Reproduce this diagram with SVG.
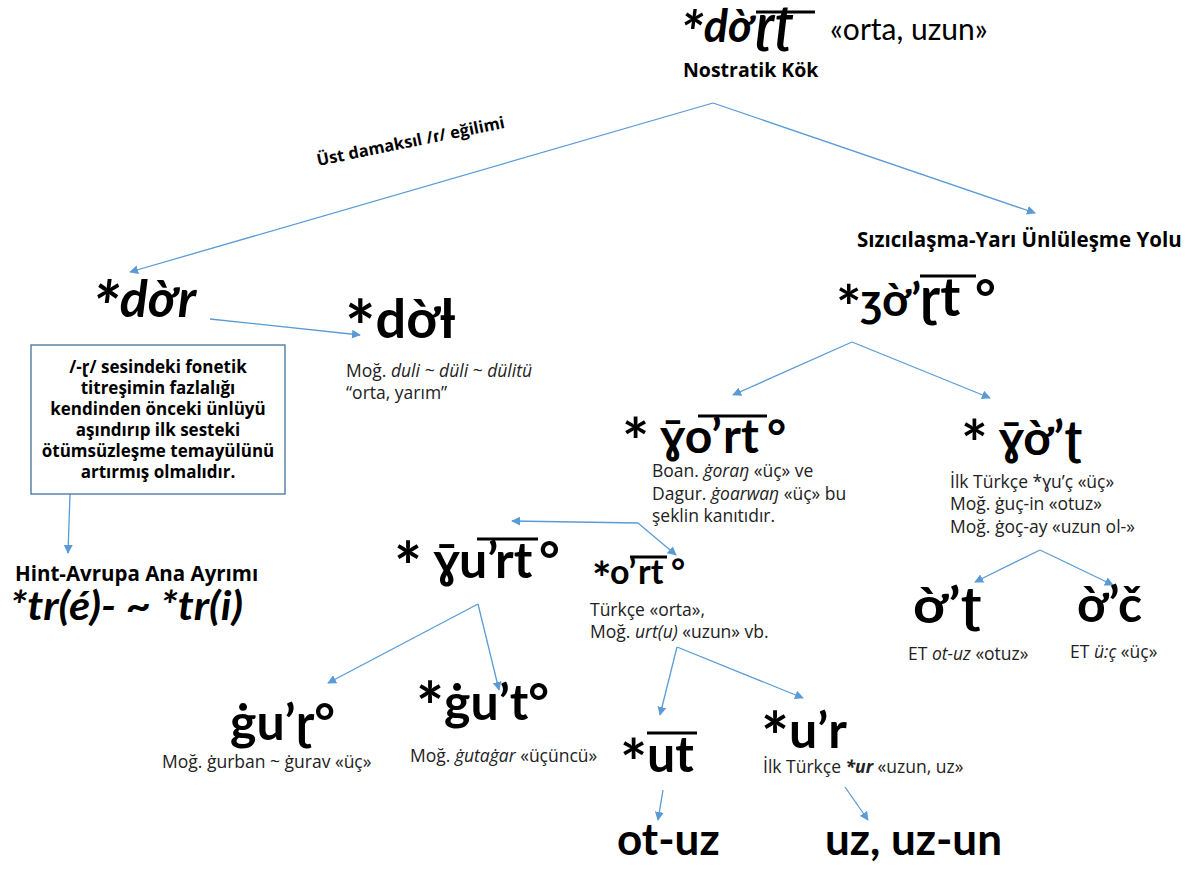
<svg xmlns="http://www.w3.org/2000/svg" width="1185" height="869" viewBox="0 0 1185 869">
<defs>
<marker id="ah" viewBox="0 0 10 10" refX="9" refY="5" markerWidth="9" markerHeight="9" markerUnits="userSpaceOnUse" orient="auto">
<path d="M0,0 L10,5 L0,10 z" fill="#5B9BD5"/>
</marker>
</defs>
<style>
text{font-family:Lato,"Noto Sans","DejaVu Sans",sans-serif;fill:#000}
.big{font-size:50px;font-weight:bold}
.bi{font-style:italic}
.sm{font-family:"Open Sans","Noto Sans",sans-serif;font-size:17.5px;fill:#222}
.lbl{font-family:"Open Sans","Noto Sans",sans-serif;font-weight:bold}
.box{font-family:"Open Sans","Noto Sans",sans-serif;font-size:17px;font-weight:bold;text-anchor:middle}
.ov{stroke:#000;stroke-width:3}
.conn line{stroke:#5B9BD5;stroke-width:1.3;marker-end:url(#ah)}
</style>
<rect width="1185" height="869" fill="#fff"/>

<g id="connectors" class="conn">
<line x1="713" y1="103" x2="130" y2="272"/>
<line x1="713" y1="103" x2="1035" y2="213"/>
<line x1="210" y1="319" x2="360" y2="335"/>
<line x1="70" y1="494" x2="68" y2="553"/>
<line x1="852" y1="342" x2="733" y2="395"/>
<line x1="852" y1="342" x2="990" y2="398"/>
<line x1="638" y1="523" x2="512" y2="521"/>
<line x1="638" y1="523" x2="676" y2="555"/>
<line x1="1040" y1="550" x2="975" y2="582"/>
<line x1="1040" y1="550" x2="1113" y2="585"/>
<line x1="478" y1="604" x2="328" y2="683"/>
<line x1="478" y1="604" x2="499" y2="690"/>
<line x1="677" y1="647" x2="660" y2="715"/>
<line x1="677" y1="647" x2="803" y2="698"/>
<line x1="663" y1="790" x2="658" y2="820"/>
<line x1="845" y1="787" x2="868" y2="820"/>
</g>

<g id="root">
<text x="680" y="42" class="bi" font-size="45" font-weight="bold"><tspan font-size="60" dy="12">*</tspan><tspan dy="-12">dờ</tspan></text>
<text x="756" y="42" class="bi" font-size="52" font-weight="bold">ɽʈ</text>
<line class="ov" x1="756" y1="12" x2="815" y2="12"/>
<text x="830" y="40" font-family="Open Sans" font-size="30">«orta, uzun»</text>
<text x="683" y="77" class="lbl" font-size="19.5">Nostratik Kök</text>
</g>

<g id="label-ust">
<text x="318" y="166" class="lbl" font-size="16.5" transform="rotate(-11.5 318 166)">Üst damaksıl /ɾ/  eğilimi</text>
</g>

<g id="label-sizici">
<text x="857" y="247" class="lbl" font-size="20.5">Sızıcılaşma-Yarı Ünlüleşme Yolu</text>
</g>

<g id="n-dor">
<text x="92" y="317" class="bi" font-size="52" font-weight="bold"><tspan font-size="70" dy="16">*</tspan><tspan dy="-16">dờr</tspan></text>
</g>

<g id="n-dol">
<text x="345" y="338" font-size="54" font-weight="bold"><tspan font-size="72" dy="16">*</tspan><tspan dy="-16">dờƚ</tspan></text>
<text x="346" y="377" class="sm">Moğ. <tspan font-style="italic">duli ~ düli ~ dülitü</tspan></text>
<text x="346" y="399" class="sm">“orta, yarım”</text>
</g>

<g id="n-box">
<rect x="31" y="345" width="254" height="149" fill="#fff" stroke="#41719C" stroke-width="1.3"/>
<text x="158" y="373" class="box">/-ɽ/ sesindeki fonetik</text>
<text x="158" y="394" class="box">titreşimin fazlalığı</text>
<text x="158" y="415" class="box">kendinden önceki ünlüyü</text>
<text x="158" y="436" class="box">aşındırıp ilk sesteki</text>
<text x="158" y="457" class="box">ötümsüzleşme temayülünü</text>
<text x="158" y="478" class="box">artırmış olmalıdır.</text>
</g>

<g id="n-hint">
<text x="15" y="581" class="lbl" font-size="20.5">Hint-Avrupa Ana Ayrımı</text>
<text x="10" y="620" font-size="40" font-weight="bold" font-style="italic" textLength="233" lengthAdjust="spacingAndGlyphs">*tr(é)- ~ *tr(i)</text>
</g>

<g id="n-zor">
<text x="836" y="316" font-size="46" font-weight="bold"><tspan font-size="60" dy="13">*</tspan><tspan dy="-13">ʒờ’</tspan></text>
<text x="920" y="316" font-size="54" font-weight="bold">ɽt</text>
<line class="ov" x1="920" y1="276" x2="976" y2="276"/>
<text x="975" y="316" class="big">°</text>
</g>

<g id="n-gort">
<text x="622" y="453" font-size="48" font-weight="bold"><tspan font-size="64" dy="12">*</tspan><tspan dy="-12"> ɣ̄o’</tspan></text>
<text x="723" y="453" font-size="48" font-weight="bold">rt</text>
<line class="ov" x1="698" y1="416" x2="767" y2="416"/>
<text x="767" y="453" font-size="46" font-weight="bold">°</text>
<text x="652" y="477" class="sm">Boan.  <tspan font-style="italic">ġoraŋ</tspan> «üç» ve</text>
<text x="652" y="500" class="sm">Dagur. <tspan font-style="italic">ġoarwaŋ</tspan> «üç» bu</text>
<text x="652" y="522" class="sm">şeklin kanıtıdır.</text>
</g>

<g id="n-got">
<text x="961" y="455" font-size="48" font-weight="bold"><tspan font-size="63" dy="12">*</tspan><tspan dy="-12"> ɣ̄ờ’ʈ</tspan></text>
<text x="950" y="488" class="sm">İlk Türkçe *ɣu’ç «üç»</text>
<text x="950" y="510" class="sm">Moğ. ġuç-in «otuz»</text>
<text x="950" y="533" class="sm">Moğ. ġoç-ay «uzun ol-»</text>
</g>

<g id="n-ot">
<text x="913" y="623" class="big" textLength="68" lengthAdjust="spacingAndGlyphs">ờ’ʈ</text>
<text x="908" y="660" class="sm">ET <tspan font-style="italic">ot-uz</tspan> «otuz»</text>
</g>

<g id="n-oc">
<text x="1077" y="622" class="big">ờ’č</text>
<text x="1070" y="658" class="sm">ET <tspan font-style="italic">ü:ç</tspan> «üç»</text>
</g>

<g id="n-gurt">
<text x="394" y="578" class="big"><tspan font-size="66" dy="13">*</tspan><tspan dy="-13"> ɣ̄u’</tspan></text>
<text x="495" y="578" class="big">rt</text>
<line class="ov" x1="477" y1="539" x2="538" y2="539"/>
<text x="539" y="578" class="big">°</text>
</g>

<g id="n-ort">
<text x="592" y="595" font-size="46" font-weight="bold">*</text>
<text x="610" y="584" font-size="34" font-weight="bold">o’</text>
<text x="638" y="584" font-size="34" font-weight="bold">rt</text>
<line class="ov" x1="630" y1="557" x2="667" y2="557"/>
<text x="671" y="584" font-size="34" font-weight="bold">°</text>
<text x="590" y="616" class="sm">Türkçe «orta»,</text>
<text x="590" y="638" class="sm">Moğ. <tspan font-style="italic">urt(u)</tspan> «uzun» vb.</text>
</g>

<g id="n-gur">
<text x="230" y="740" class="big">ġu’ɽ°</text>
<text x="162" y="768" class="sm">Moğ. ġurban ~ ġurav «üç»</text>
</g>

<g id="n-gut">
<text x="416" y="720" class="big"><tspan font-size="66" dy="11">*</tspan><tspan dy="-11">ġu’t°</tspan></text>
<text x="410" y="762" class="sm">Moğ. <tspan font-style="italic">ġutaġar</tspan> «üçüncü»</text>
</g>

<g id="n-ut">
<text x="620" y="786" font-size="64" font-weight="bold">*</text>
<text x="647" y="772" class="big">ut</text>
<line class="ov" x1="647" y1="733" x2="697" y2="733"/>
</g>

<g id="n-ur">
<text x="761" y="748" class="big"><tspan font-size="66" dy="13">*</tspan><tspan dy="-13">u’r</tspan></text>
<text x="763" y="773" class="sm">İlk Türkçe <tspan font-weight="bold" font-style="italic">*ur</tspan> «uzun, uz»</text>
</g>

<g id="n-otuz">
<text x="617" y="855" font-size="44" font-weight="bold">ot-uz</text>
</g>

<g id="n-uzun">
<text x="825" y="855" font-size="44" font-weight="bold">uz, uz-un</text>
</g>
</svg>
